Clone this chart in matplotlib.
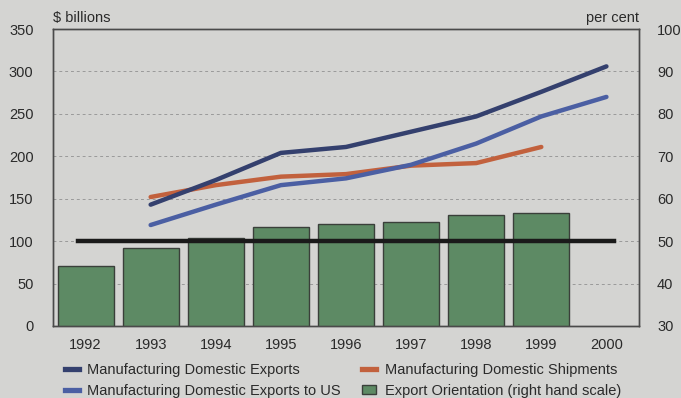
import matplotlib.pyplot as plt
from matplotlib.lines import Line2D
from matplotlib.patches import Patch

years = ['1992', '1993', '1994', '1995', '1996', '1997', '1998', '1999', '2000']

# $ billions, left scale (no 1992 value)
dom_exports = [None, 143, 172, 204, 211, 229, 247, 276, 306]
dom_exports_us = [None, 119, 143, 166, 174, 190, 215, 247, 270]
dom_shipments = [None, 152, 166, 176, 179, 189, 192, 211, None]

# per cent, right scale
export_orientation = [44.2, 48.3, 50.8, 53.4, 54.0, 54.5, 56.1, 56.7]
reference_level = 50

bg = '#d4d4d2'
c_navy = '#34406e'
c_blue = '#4b5fa3'
c_orange = '#c2613d'
c_green = '#5d8a64'
c_edge = '#3a3f3a'
c_text = '#2a2a2a'
fs = 10.5

plt.rcParams['font.family'] = ['Liberation Sans', 'DejaVu Sans']

fig = plt.figure(figsize=(6.81, 3.98), dpi=100, facecolor=bg)
ax = fig.add_axes([0.0778, 0.181, 0.8605, 0.746])
ax2 = ax.twinx()

x = list(range(len(years)))

# bars and reference line on the right axis (drawn underneath)
ax2.bar(x[:len(export_orientation)], export_orientation, width=0.86, bottom=0,
        color=c_green, edgecolor=c_edge, linewidth=1, zorder=2)
ax2.plot([x[0] - 0.12, x[-1] + 0.12], [reference_level, reference_level],
         color='#1a1a1a', linewidth=3.2, zorder=3)
ax2.set_ylim(30, 100)
ax2.set_yticks(range(30, 101, 10))
ax2.grid(axis='y', color='#9a9a9a', linestyle=(0, (3, 3)), linewidth=0.7, zorder=0)
ax2.set_axisbelow(True)
ax2.patch.set_visible(True)
ax2.patch.set_facecolor(bg)

# lines on the left axis (on top)
ax.set_zorder(ax2.get_zorder() + 1)
ax.patch.set_visible(False)


def seg(vals):
    xs = [i for i, v in zip(x, vals) if v is not None]
    ys = [v for v in vals if v is not None]
    return xs, ys


ax.plot(*seg(dom_shipments), color=c_orange, linewidth=3.2, solid_capstyle='round')
ax.plot(*seg(dom_exports_us), color=c_blue, linewidth=3.2, solid_capstyle='round')
ax.plot(*seg(dom_exports), color=c_navy, linewidth=3.2, solid_capstyle='round')

ax.set_xlim(-0.5, len(years) - 0.5)
ax.set_ylim(0, 350)
ax.set_yticks(range(0, 351, 50))
ax.set_xticks(x)
ax.set_xticklabels(years)

for a in (ax, ax2):
    a.tick_params(length=0, labelsize=fs, colors=c_text)
    for s in a.spines.values():
        s.set_color('#4a4a4a')
        s.set_linewidth(1)
ax.tick_params(axis='y', pad=14)
ax.tick_params(axis='x', pad=9)
ax2.tick_params(axis='y', pad=13)

ax.text(0, 1.015, r'\$ billions', transform=ax.transAxes, ha='left', va='bottom',
        fontsize=fs, color=c_text)
ax.text(1, 1.015, 'per cent', transform=ax.transAxes, ha='right', va='bottom',
        fontsize=fs, color=c_text)

handles = [
    Line2D([], [], color=c_navy, linewidth=3.8),
    Line2D([], [], color=c_blue, linewidth=3.8),
    Line2D([], [], color=c_orange, linewidth=3.8),
    Patch(facecolor=c_green, edgecolor=c_edge, linewidth=1),
]
labels = ['Manufacturing Domestic Exports', 'Manufacturing Domestic Exports to US',
          'Manufacturing Domestic Shipments', 'Export Orientation (right hand scale)']
fig.legend(handles, labels, ncol=2, loc='upper left', bbox_to_anchor=(0.095, 0.088),
           frameon=False, fontsize=fs, handlelength=0.95, handleheight=0.65,
           handletextpad=0.6, columnspacing=1.45, labelspacing=0.45,
           labelcolor=c_text, borderpad=0, borderaxespad=0)

fig.savefig('out.png', dpi=100, facecolor=bg)
